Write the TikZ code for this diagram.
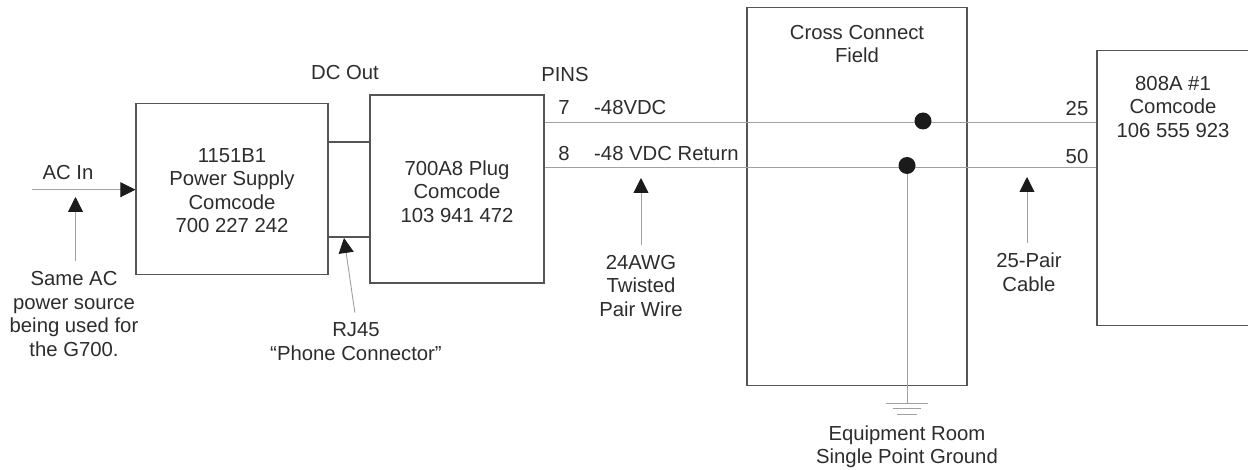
\documentclass[tikz,border=0pt]{standalone}
\usepackage{fontspec}
\setmainfont{Liberation Sans}
\usepackage{xcolor}
\usetikzlibrary{arrows.meta,positioning}
\definecolor{inkgray}{RGB}{45,45,45}
\definecolor{boxgray}{RGB}{85,85,85}
\definecolor{wiregray}{RGB}{160,160,160}

\begin{document}
\begin{tikzpicture}[x=1pt,y=-1pt,
  every node/.style={font=\fontsize{20.3}{23.5}\selectfont,text=inkgray},
  box/.style={draw=boxgray,line width=1.2pt,minimum width=#1,inner sep=0pt},
  txt/.style={align=center,inner sep=2pt},
  wire/.style={draw=wiregray,line width=0.9pt},
  link/.style={draw=boxgray,line width=1.1pt},
  pointer/.style={draw=wiregray,line width=0.9pt,shorten <=8pt,-{Triangle[length=15pt,width=15pt,inkgray!60!black]}},
  dot/.style={circle,fill=inkgray!60!black,minimum size=17pt,inner sep=0pt}
]
  \useasboundingbox (0,0) rectangle (1248,470);
  \clip (0,0) rectangle (1248,470);
  \fill[white] (0,0) rectangle (1248,470);

  % boxes
  \node[box=192pt,minimum height=171pt] (ps) at (232,189) {};
  \node[box=174pt,minimum height=188pt] (plug) at (457,189) {};
  \node[box=220pt,minimum height=378pt] (cross) at (857,196.5) {};
  \node[box=170pt,minimum height=275pt] (eight) at (1182,188) {};
  \node[txt] (pstxt) at (232,190.5) {1151B1\\Power Supply\\Comcode\\700 227 242};
  \node[txt] (plugtxt) at (457,191.5) {700A8 Plug\\Comcode\\103 941 472};
  \node[txt,below=16pt of cross.north] (crosstxt) {Cross Connect\\Field};
  \node[txt] (eighttxt) at (1173,107) {808A \#1\\Comcode\\106 555 923};

  % DC links
  \draw[link] ([yshift=47pt]ps.east) -- ([yshift=47pt]plug.west);
  \draw[link] ([yshift=-48pt]ps.east) -- ([yshift=-48pt]plug.west);

  % pair wires
  \draw[wire] ([yshift=67pt]plug.east) -- ([yshift=66pt]eight.west);
  \draw[wire] ([yshift=21.3pt]plug.east) -- ([yshift=20.3pt]eight.west);
  \node[dot] (dota) at (923,121) {};
  \node[dot] (dotb) at (907,165.5) {};

  % ground
  \coordinate (gnd) at (907,403);
  \draw[wire] (dotb) -- (gnd);
  \draw[wire] ([xshift=-21pt]gnd) -- ([xshift=21pt]gnd);
  \draw[wire] ([xshift=-14pt,yshift=-5.5pt]gnd) -- ([xshift=14pt,yshift=-5.5pt]gnd);
  \draw[wire] ([xshift=-10pt,yshift=-11pt]gnd) -- ([xshift=10pt,yshift=-11pt]gnd);
  \node[txt] (gndtxt) at (907,447) {Equipment Room\\Single Point Ground};

  % AC input
  \coordinate (acstart) at (32,189.7);
  \draw[wire,-{Triangle[length=15pt,width=15pt,inkgray!60!black]}] (acstart) -- (acstart -| ps.west);
  \node[txt] (acin) at (68,173) {AC In};
  \node[txt] (source) at (74,314) {Same AC\\power source\\being used for\\the G700.};
  \coordinate (sourcetip) at (75.5,197);
  \draw[pointer] (source.north -| sourcetip) -- (sourcetip);

  % top labels
  \node[txt] (dcout) at (345,73) {DC Out};
  \node[txt] (pins) at (565,75) {PINS};
  \node[txt] (pinseven) at (564,108) {7};
  \node[txt] (pineight) at (564,154) {8};
  \node[txt,anchor=west,inner sep=0pt] (volt) at (594,108) {-48VDC};
  \node[txt,anchor=west,inner sep=0pt] (voltret) at (594,154) {-48 VDC Return};
  \node[txt] (pinfive) at (1077,109) {25};
  \node[txt] (pinfifty) at (1077,157) {50};

  % pointers
  \node[txt] (rjcon) at (356,341.5) {RJ45\\``Phone Connector''};
  \coordinate (rjtip) at (344,238);
  \draw[pointer] (rjcon.north) -- (rjtip);
  \node[txt] (awg) at (641,286) {24AWG\\Twisted\\Pair Wire};
  \coordinate (awgtip) at (641,178);
  \draw[pointer] (awg.north) -- (awgtip);
  \node[txt] (cable) at (1029,272) {25-Pair\\Cable};
  \coordinate (cabletip) at (1027,177);
  \draw[pointer] (cable.north -| cabletip) -- (cabletip);
\end{tikzpicture}
\end{document}
